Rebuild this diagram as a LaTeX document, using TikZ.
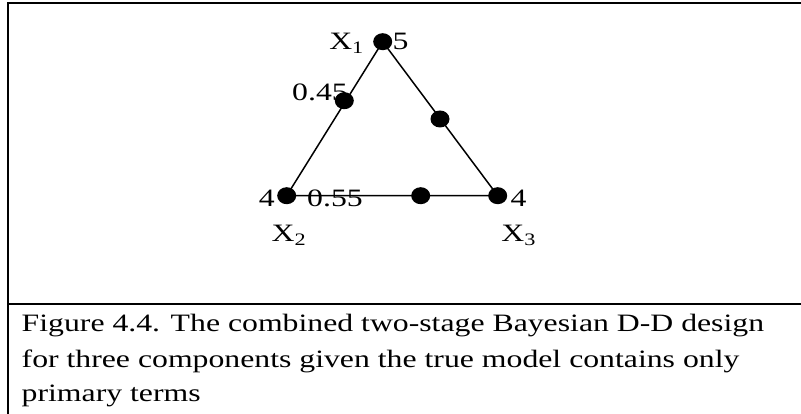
\documentclass[tikz,border=0pt]{standalone}
\usepackage{fontspec}
\setmainfont[FakeStretch=1.27]{Liberation Serif}
\usetikzlibrary{shapes.geometric}
\begin{document}
\begin{tikzpicture}[x=1pt,y=1pt,
  dot/.style={ellipse,fill=black,inner sep=0pt,minimum width=19pt,minimum height=17pt},
  lbl/.style={inner sep=0pt,font=\fontsize{25}{30}\selectfont},
  edge/.style={line width=1.5pt},
  frame/.style={line width=2pt}]
\useasboundingbox (0,0) rectangle (801,414);
% frame
\coordinate (tl) at (8,411);
\coordinate (tr) at (801,411);
\coordinate (bl) at (8,0);
\coordinate (dl) at (8,110);
\coordinate (dr) at (801,110);
\draw[frame] (bl) -- (tl) -- (tr);
\draw[frame] (dl) -- (dr);
% vertices and points
\node[dot] (v1) at (382.7,372.3) {};
\node[dot] (v2) at (286.7,218.3) {};
\node[dot] (v3) at (497.7,218.3) {};
\node[dot] (pl) at (344.3,313.3) {};
\node[dot] (pr) at (440,295) {};
\node[dot] (pb) at (420.7,218.3) {};
\draw[edge] (v1.center) -- (v2.center) -- (v3.center) -- cycle;
% labels
\node[lbl,anchor=base east] (lx1) at (364,364.5) {X\textsubscript{1}};
\node[lbl,anchor=base west] (l5) at (392.5,364.7) {5};
\node[lbl,anchor=base east] (l045) at (348,313) {0.45};
\node[lbl,anchor=base east] (l4a) at (275,207.3) {4};
\node[lbl,anchor=base west] (l055) at (307,207.3) {0.55};
\node[lbl,anchor=base west] (l4b) at (510.5,207.3) {4};
\node[lbl,anchor=base west] (lx2) at (271.5,172.3) {X\textsubscript{2}};
\node[lbl,anchor=base west] (lx3) at (501.2,172.3) {X\textsubscript{3}};
% caption
\node[lbl,anchor=base west] (c1) at (21.5,82) {Figure 4.4. The combined two-stage Bayesian D-D design};
\node[lbl,anchor=base west] (c2) at (21.5,46) {for three components given the true model contains only};
\node[lbl,anchor=base west] (c3) at (21.5,12) {primary terms};
\end{tikzpicture}
\end{document}
